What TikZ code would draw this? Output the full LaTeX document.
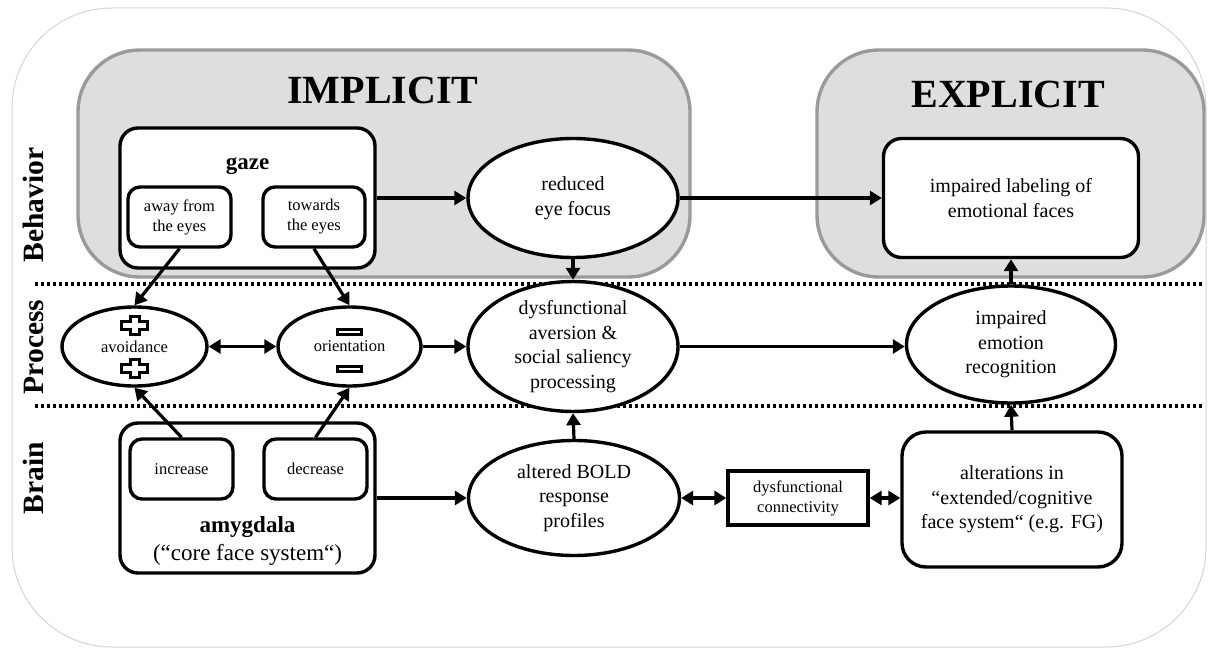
\documentclass[tikz,border=0pt]{standalone}
\usepackage{fontspec}
\setmainfont{Liberation Serif}
\usetikzlibrary{arrows.meta,shapes.geometric}
\definecolor{boxgray}{HTML}{DEDEDE}
\definecolor{boxborder}{HTML}{9A9A9A}
\definecolor{framegray}{HTML}{D4D4D4}
\begin{document}
\begin{tikzpicture}[x=1pt,y=-1pt,
  every node/.style={inner sep=0pt, align=center},
  conn/.style={line width=3.2pt, -{Triangle[length=12pt,width=14pt]}},
  dconn/.style={line width=3.2pt, {Triangle[length=12pt,width=14pt]}-{Triangle[length=12pt,width=14pt]}},
  ell/.style={ellipse, draw, line width=3.4pt, fill=white},
  rbox/.style={rectangle, rounded corners=18pt, draw, line width=3.4pt, fill=white},
  sbox/.style={rectangle, rounded corners=12pt, draw, line width=3.4pt, fill=white},
  graybox/.style={rectangle, rounded corners=62pt, draw=boxborder, fill=boxgray, line width=3.4pt},
  mainf/.style={font=\fontsize{20}{24.5}\selectfont},
  smallf/.style={font=\fontsize{16.5}{20}\selectfont},
  boldf/.style={font=\fontsize{23}{28}\selectfont},
  titlef/.style={font=\fontsize{40}{44}\selectfont\bfseries},
  sidef/.style={font=\fontsize{29.5}{32}\selectfont\bfseries},
  dotline/.style={line width=3.2pt, dash pattern=on 3pt off 3pt},
  plussign/.pic={\draw[line width=3pt, fill=white] (-4.5,-9) -- (4.5,-9) -- (4.5,-4) -- (13,-4) -- (13,4) -- (4.5,4) -- (4.5,9) -- (-4.5,9) -- (-4.5,4) -- (-13,4) -- (-13,-4) -- (-4.5,-4) -- cycle;},
  minussign/.pic={\draw[line width=3pt, fill=white] (-12.2,-2.8) rectangle (12.2,2.8);}
]
\useasboundingbox (0,0) rectangle (1210,650);
% outer frame
\draw[framegray, line width=1pt, rounded corners=100pt] (12,8) rectangle (1206,647);
% dotted separators
\draw[dotline] (35,284) -- (1202,284);
\draw[dotline] (35,406) -- (1202,406);
% implicit / explicit areas
\node[graybox, minimum width=612pt, minimum height=227pt] (implicit) at (384,163.5) {};
\node[graybox, minimum width=387pt, minimum height=227pt] (explicit) at (1010.5,163.5) {};
\node[titlef, anchor=base] (implicitlbl) at (383,104) {IMPLICIT};
\node[titlef, anchor=base] (explicitlbl) at (1008,108) {EXPLICIT};
% side labels
\node[sidef, rotate=90, anchor=base] (behav) at (43,205) {Behavior};
\node[sidef, rotate=90, anchor=base] (proc) at (43,347) {Process};
\node[sidef, rotate=90, anchor=base] (brain) at (43,478) {Brain};
% behavior row
\node[rbox, minimum width=255pt, minimum height=140pt] (gaze) at (247.5,198) {};
\node[font=\fontsize{23}{28}\selectfont\bfseries] (gazelbl) at (247.5,166) {gaze};
\node[sbox, smallf, minimum width=103pt, minimum height=60pt] (away) at (179.5,217) {away from\\the eyes};
\node[sbox, smallf, minimum width=102pt, minimum height=60pt] (towards) at (314,217) {towards\\the eyes};
\node[ell, mainf, minimum width=210pt, minimum height=119pt] (reduced) at (573,198) {reduced\\eye focus};
\node[rbox, mainf, minimum width=255pt, minimum height=119pt] (label) at (1011,198) {impaired labeling of\\emotional faces};
% process row
\node[ell, smallf, minimum width=145pt, minimum height=79pt] (avoid) at (134.5,346.5) {avoidance};
\node[ell, smallf, minimum width=143pt, minimum height=79pt] (orient) at (349.5,346.5) {orientation};
\node[ell, mainf, minimum width=210pt, minimum height=118pt] (aversion) at (573,346.5) {dysfunctional\\aversion \&\\social saliency\\processing};
\node[ell, mainf, minimum width=209pt, minimum height=117pt] (emo) at (1011,344.5) {impaired\\emotion\\recognition};
\pic at (134.5,325) {plussign};
\pic at (134.5,368) {plussign};
\pic at (349.5,332) {minussign};
\pic at (349.5,369) {minussign};
% brain row
\node[rbox, minimum width=255pt, minimum height=150pt] (amyg) at (247.5,498) {};
\node[sbox, smallf, minimum width=103pt, minimum height=60pt] (increase) at (181.5,469) {increase};
\node[sbox, smallf, minimum width=103pt, minimum height=60pt] (decrease) at (315.5,469) {decrease};
\node[boldf] (amyglbl) at (247.5,541) {\textbf{amygdala}\\(“core face system“)};
\node[ell, mainf, minimum width=211pt, minimum height=115pt] (bold) at (574,498) {altered BOLD\\response\\profiles};
\node[rectangle, draw, line width=3.4pt, fill=white, smallf, minimum width=140pt, minimum height=54pt] (connbox) at (798,498) {dysfunctional\\connectivity};
\node[rbox, rounded corners=24pt, mainf, minimum width=220pt, minimum height=135pt] (alter) at (1012,499.5) {alterations in\\“extended/cognitive\\face system“ (e.g. FG)};
% connectors
\draw[conn] (gaze.east) -- (reduced.west);
\draw[conn] (reduced.east) -- (label.west);
\draw[conn] (reduced.south) -- (aversion.north);
\draw[conn] (away.south) -- (avoid.north);
\draw[conn] (towards.south) -- (orient.north);
\draw[conn] (increase.north) -- (avoid.south);
\draw[conn] (decrease.north) -- (orient.south);
\draw[dconn] (avoid.east) -- (orient.west);
\draw[conn] (orient.east) -- (aversion.west);
\draw[conn] (aversion.east) -- (emo.west |- aversion.east);
\draw[conn] (bold.north) -- (aversion.south);
\draw[conn] (amyg.east) -- (bold.west);
\draw[dconn] (bold.east) -- (connbox.west);
\draw[dconn] (connbox.east) -- (alter.west |- connbox.east);
\draw[conn] (alter.north) -- (emo.south);
\draw[conn] (emo.north) -- (label.south);
\end{tikzpicture}
\end{document}
